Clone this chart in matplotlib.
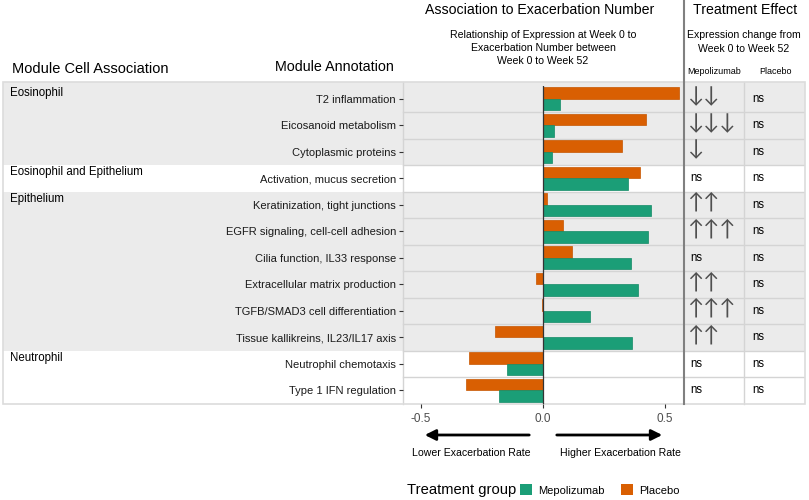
import matplotlib
matplotlib.use('Agg')
import matplotlib.pyplot as plt
from matplotlib.patches import Rectangle, Patch, FancyArrowPatch
import numpy as np

plt.rcParams['font.family'] = ['Liberation Sans', 'DejaVu Sans']

GREEN = '#1B9E77'
ORANGE = '#D95F02'
BAND = '#EBEBEB'
SEP = '#D4D4D4'

# data
modules = ['T2 inflammation', 'Eicosanoid metabolism', 'Cytoplasmic proteins',
           'Activation, mucus secretion', 'Keratinization, tight junctions',
           'EGFR signaling, cell-cell adhesion', 'Cilia function, IL33 response',
           'Extracellular matrix production', 'TGFB/SMAD3 cell differentiation',
           'Tissue kallikreins, IL23/IL17 axis', 'Neutrophil chemotaxis',
           'Type 1 IFN regulation']
placebo = [0.559, 0.422, 0.322, 0.399, 0.018, 0.083, 0.120, -0.030, -0.004, -0.198, -0.303, -0.314]
mepolizumab = [0.070, 0.046, 0.035, 0.348, 0.443, 0.429, 0.359, 0.388, 0.194, 0.363, -0.149, -0.180]
groups = ['Eosinophil', 'Eosinophil and Epithelium', 'Epithelium', 'Neutrophil']
group_sizes = [3, 1, 6, 2]
mepo_effect = ['↓↓', '↓↓↓', '↓', 'ns', '↑↑', '↑↑↑', 'ns', '↑↑', '↑↑↑', '↑↑', 'ns', 'ns']
placebo_effect = ['ns'] * 12
xticks = [-0.5, 0.0, 0.5]

W, H = 809, 500
fig = plt.figure(figsize=(W / 100, H / 100), dpi=100)

def fx(x):
    return x / W

def fy(y):
    return 1 - y / H

def ftext(x, y, s, **kw):
    fig.text(fx(x), fy(y), s, **kw)

TOP, BOT = 85.5, 403.5
n = len(modules)

# table background axes (x in pixels, y in rows)
ax_t = fig.add_axes([fx(3), fy(BOT), (805 - 3) / W, (BOT - TOP) / H])
ax_t.set_xlim(3, 805)
ax_t.set_ylim(n, 0)
ax_t.axis('off')
row_px = (BOT - TOP) / n
ext = (TOP - 82) / row_px  # band starts a little above the first row
start = 0
for i, (g, sz) in enumerate(zip(groups, group_sizes)):
    col = BAND if i % 2 == 0 else 'white'
    y0 = start - ext if i == 0 else start
    ax_t.add_patch(Rectangle((3, y0), 802, sz + (start - y0), facecolor=col, edgecolor='none',
                             zorder=0, clip_on=False))
    ax_t.text(10, start + 0.05, g, fontsize=8.3, va='top', ha='left', color='black')
    start += sz
for r in range(1, n):
    ax_t.plot([403, 805], [r, r], color=SEP, lw=1, zorder=1)
ax_t.plot([403, 403], [-ext, n], color=SEP, lw=1, zorder=1, clip_on=False)
ax_t.plot([744, 744], [-ext, n], color=SEP, lw=1, zorder=1, clip_on=False)
ax_t.add_patch(Rectangle((3, -ext), 802, n + ext, facecolor='none', edgecolor='#DCDCDC', lw=1.2,
                         zorder=2, clip_on=False))

for r in range(n):
    if mepo_effect[r] == 'ns':
        ax_t.text(690, r + 0.5, 'ns', fontsize=8.3, va='center', ha='left')
    else:
        ax_t.text(687, r + 0.42, mepo_effect[r], fontsize=15.5, va='center', ha='left',
                  color='#505050', family=['Lato', 'DejaVu Sans'])
    ax_t.text(752, r + 0.5, placebo_effect[r], fontsize=8.3, va='center', ha='left')

# bar panel
ax = fig.add_axes([fx(403), fy(BOT), (684 - 403) / W, (BOT - TOP) / H])
ax.patch.set_alpha(0)
y = np.arange(n)
h = 0.44
ax.barh(y - h / 2, placebo, height=h, color=ORANGE, edgecolor='#C65600', lw=0.5, zorder=3)
ax.barh(y + h / 2, mepolizumab, height=h, color=GREEN, edgecolor='#138A66', lw=0.5, zorder=3)
ax.axvline(0, color='#333333', lw=0.9, zorder=4)
ax.set_xlim(-0.574, 0.578)
ax.set_ylim(n - 0.5, -0.5)
ax.set_yticks(y)
ax.set_yticklabels(modules, fontsize=8, color='#1A1A1A')
ax.set_xticks(xticks)
ax.set_xticklabels(['-0.5', '0.0', '0.5'], fontsize=8.5, color='#4D4D4D')
ax.tick_params(axis='y', length=3, width=0.8, color='#333333', pad=2)
ax.tick_params(axis='x', length=3, width=0.8, color='#333333', pad=4)
for s in ax.spines.values():
    s.set_visible(False)

# headers
ftext(12, 69, 'Module Cell Association', fontsize=10.5, va='center', ha='left')
ftext(394, 67, 'Module Annotation', fontsize=10.3, va='center', ha='right')
ftext(540, 10, 'Association to Exacerbation Number', fontsize=10.2, va='center', ha='center')
ftext(543, 48, 'Relationship of Expression at Week 0 to\nExacerbation Number between\nWeek 0 to Week 52',
      fontsize=7.6, va='center', ha='center', linespacing=1.42)
ftext(745, 10, 'Treatment Effect', fontsize=10.2, va='center', ha='center')
ftext(744, 42, 'Expression change from\nWeek 0 to Week 52', fontsize=7.6, va='center',
      ha='center', linespacing=1.42)
ftext(714, 72, 'Mepolizumab', fontsize=6.5, va='center', ha='center')
ftext(775, 72, 'Placebo', fontsize=6.5, va='center', ha='center')
fig.add_artist(plt.Line2D([fx(684), fx(684)], [fy(0), fy(BOT)], color='#808080', lw=1.5))

# direction arrows
fig.add_artist(FancyArrowPatch((fx(532), fy(435)), (fx(422), fy(435)), transform=fig.transFigure,
                               arrowstyle='-|>', mutation_scale=16, lw=2, color='black'))
fig.add_artist(FancyArrowPatch((fx(554), fy(435)), (fx(665), fy(435)), transform=fig.transFigure,
                               arrowstyle='-|>', mutation_scale=16, lw=2, color='black'))
ftext(471, 453, 'Lower Exacerbation Rate', fontsize=7.6, va='center', ha='center')
ftext(620, 453, 'Higher Exacerbation Rate', fontsize=7.6, va='center', ha='center')

# legend
ftext(407, 490, 'Treatment group', fontsize=10.6, va='center', ha='left')
handles = [Patch(facecolor=GREEN, edgecolor='none', label='Mepolizumab'),
           Patch(facecolor=ORANGE, edgecolor='none', label='Placebo')]
fig.legend(handles=handles, loc='center left', bbox_to_anchor=(fx(510), fy(490)), ncol=2,
           frameon=False, fontsize=8, handlelength=1.1, handleheight=1.1, handletextpad=0.5,
           columnspacing=1.5)

fig.savefig('out.png', dpi=100)
